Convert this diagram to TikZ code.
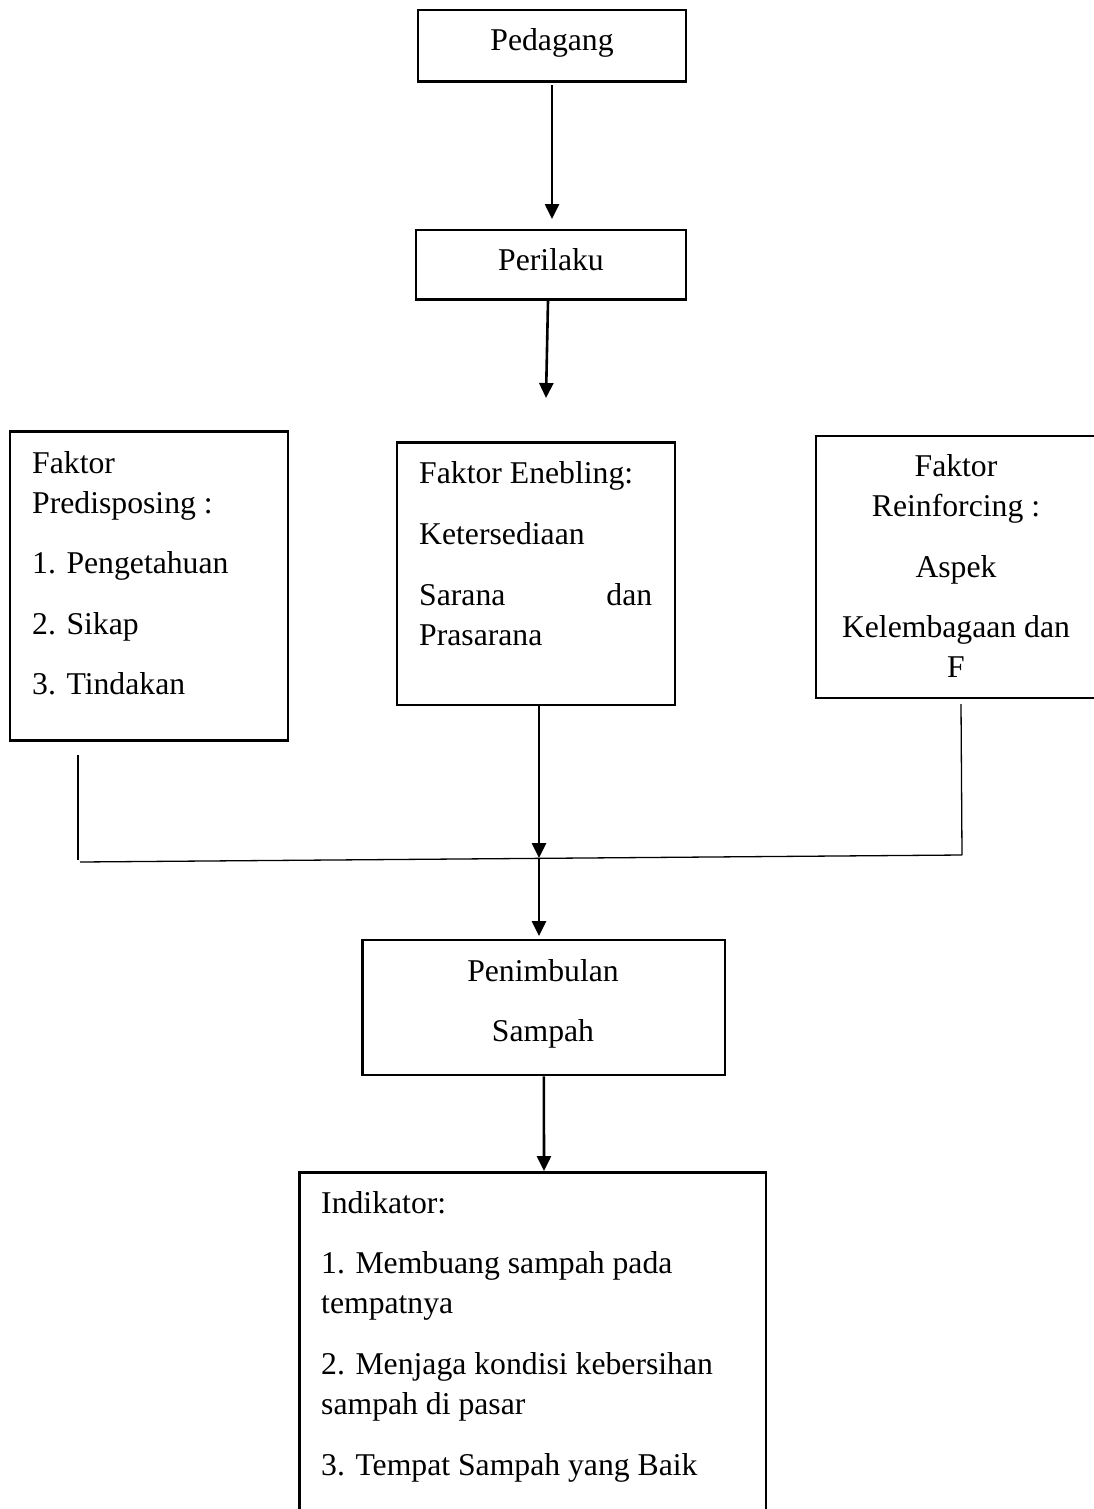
\documentclass[tikz,border=0pt]{standalone}
\usepackage{fontspec}
\setmainfont{Liberation Serif}
\usepackage{tikz}
\usetikzlibrary{arrows.meta}

\tikzset{
  box/.style={draw, line width=2.8pt, inner sep=0pt},
  lbl/.style={inner sep=0pt, font=\fontsize{31.7}{40}\selectfont},
  arr/.style={line width=2.6pt, -{Triangle[length=15pt,width=14pt]}},
  thin line/.style={line width=1.3pt}
}

\begin{document}
\begin{tikzpicture}[x=1pt,y=1pt,yscale=-1,xscale=1]
\useasboundingbox (0,0) rectangle (1093,1509);

%Shape: Rectangle [pedagang]
\node[box, minimum width=268, minimum height=71.7] (pedagang) at (552,45.85) {};
%Shape: Rectangle [perilaku]
\node[box, minimum width=270, minimum height=69.3] (perilaku) at (551,264.65) {};
%Shape: Rectangle [predisposing]
\node[box, minimum width=278, minimum height=309] (predisposing) at (149,586.2) {};
%Shape: Rectangle [enabling]
\node[box, minimum width=278, minimum height=262.3] (enabling) at (536,573.85) {};
%Shape: Rectangle [reinforcing]
\node[box, minimum width=280, minimum height=262] (reinforcing) at (956,567) {};
%Shape: Rectangle [penimbulan]
\node[box, minimum width=362.3, minimum height=135] (penimbulan) at (543.85,1007.5) {};
%Shape: Rectangle [indikator]
\node[box, minimum width=466.7, minimum height=339.3] (indikator) at (532.65,1342.35) {};

% Text Node
\node[lbl, anchor=base] (tPedagang) at (552,50.7) {Pedagang};
% Text Node
\node[lbl, anchor=base] (tPerilaku) at (551,270) {Perilaku};

% Text Node
\node[lbl, anchor=base west] (tPre1) at (32,473) {Faktor};
\node[lbl, anchor=base west] (tPre2) at (32,513) {Predisposing :};
\node[lbl, anchor=base west] (tPre3) at (32,573.5) {1. Pengetahuan};
\node[lbl, anchor=base west] (tPre4) at (32,634) {2. Sikap};
\node[lbl, anchor=base west] (tPre5) at (32,694.5) {3. Tindakan};

% Text Node
\node[lbl, anchor=base west] (tEna1) at (419,483) {Faktor Enebling:};
\node[lbl, anchor=base west] (tEna2) at (419,544) {Ketersediaan};
\node[lbl, anchor=base west] (tEna3) at (419,605) {\makebox[233pt]{Sarana\hfill dan}};
\node[lbl, anchor=base west] (tEna4) at (419,645) {Prasarana};

% Text Node
\node[lbl, anchor=base] (tRei1) at (956,476) {Faktor};
\node[lbl, anchor=base] (tRei2) at (956,516) {Reinforcing :};
\node[lbl, anchor=base] (tRei3) at (956,577) {Aspek};
\node[lbl, anchor=base] (tRei4) at (956,637) {Kelembagaan dan};
\node[lbl, anchor=base] (tRei5) at (956,677) {F};

% Text Node
\node[lbl, anchor=base] (tPen1) at (543,981) {Penimbulan};
\node[lbl, anchor=base] (tPen2) at (543,1041) {Sampah};

% Text Node
\node[lbl, anchor=base west] (tInd1) at (321,1213) {Indikator:};
\node[lbl, anchor=base west] (tInd2) at (321,1273) {1. Membuang sampah pada};
\node[lbl, anchor=base west] (tInd3) at (321,1313) {tempatnya};
\node[lbl, anchor=base west] (tInd4) at (321,1374) {2. Menjaga kondisi kebersihan};
\node[lbl, anchor=base west] (tInd5) at (321,1414) {sampah di pasar};
\node[lbl, anchor=base west] (tInd6) at (321,1475) {3. Tempat Sampah yang Baik};

% free ends of the connectors
\coordinate (tipPer) at (552,219);
\coordinate (tipEna) at (546,398);
\coordinate (leftTop) at (78,755);
\coordinate (leftBot) at (78,860);
\coordinate (joinL) at (80,862);
\coordinate (joinR) at (962,855);
\coordinate (rightTop) at (961,704);
\coordinate (joinM) at (539,858);
\coordinate (tipPen) at (539,936);
\coordinate (tipInd) at (544,1171);

%Straight Lines [arrows]
\draw[arr] ([yshift=2pt]pedagang.south) -- (tipPer);
\draw[arr] ([xshift=-3pt]perilaku.south) -- (tipEna);
\draw[arr] ([xshift=3pt]enabling.south) -- (joinM);
\draw[arr] (joinM) -- (tipPen);
\draw[arr] (penimbulan.south) -- (tipInd);

%Straight Lines [joining lines]
\draw[thin line] (leftTop) -- (leftBot);
\draw[thin line] (joinL) -- (joinR);
\draw[thin line] (rightTop) -- (joinR);

\end{tikzpicture}
\end{document}
